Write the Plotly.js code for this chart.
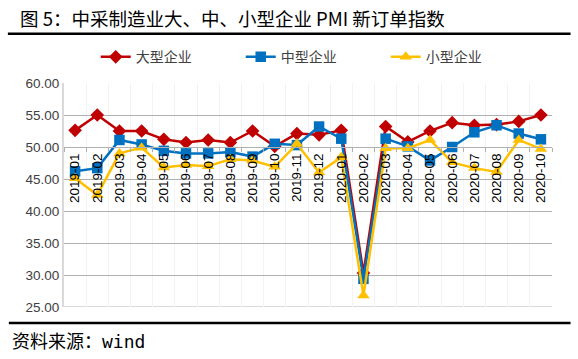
<!DOCTYPE html>
<html>
<head>
<meta charset="utf-8">
<script src="https://cdn.plot.ly/plotly-3.0.1.min.js"></script>
<style>html,body{margin:0;padding:0;background:#fff;}#chart{width:578px;height:359px;}</style>
</head>
<body>
<div id="chart"></div>
<script>
const months = ["2019-01","2019-02","2019-03","2019-04","2019-05","2019-06","2019-07","2019-08","2019-09","2019-10","2019-11","2019-12","2020-01","2020-02","2020-03","2020-04","2020-05","2020-06","2020-07","2020-08","2020-09","2020-10"];
const largeEnt = [52.6,55.0,52.5,52.5,51.2,50.7,51.1,50.7,52.5,50.1,52.1,51.9,52.6,30.3,53.2,50.8,52.5,53.8,53.4,53.5,54.0,55.0];
const mediumEnt = [46.2,46.7,51.1,50.4,49.4,49.0,49.0,49.2,48.5,50.5,50.3,53.2,51.3,29.4,51.3,50.1,47.9,50.0,52.3,53.4,52.1,51.2];
const smallEnt = [45.1,42.5,49.0,49.9,46.8,47.2,47.0,48.1,47.9,46.9,50.5,46.0,48.4,26.8,49.8,49.8,51.1,47.6,46.7,46.1,51.1,49.7];
const seriesNames = ["大型企业","中型企业","小型企业"];
const yTicks = [25,30,35,40,45,50,55,60];

const font = "'Liberation Sans', Arial, 'Noto Sans CJK SC', sans-serif";
const cjk = "'Noto Sans CJK SC', 'Liberation Sans', sans-serif";

const traces = [
  {x: months, y: largeEnt, name: seriesNames[0], type: 'scatter', mode: 'lines+markers',
   line: {color: '#C00000', width: 2.5}, marker: {symbol: 'diamond', size: 10.5, color: '#C00000'}},
  {x: months, y: mediumEnt, name: seriesNames[1], type: 'scatter', mode: 'lines+markers',
   line: {color: '#0070C0', width: 2.5}, marker: {symbol: 'square', size: 10.5, color: '#0070C0'}},
  {x: months, y: smallEnt, name: seriesNames[2], type: 'scatter', mode: 'lines+markers',
   line: {color: '#FFC000', width: 2.5}, marker: {symbol: 'triangle-up', size: 11, color: '#FFC000'}}
];

const layout = {
  width: 578, height: 359,
  margin: {l: 64, r: 26, t: 83, b: 52},
  paper_bgcolor: '#fff', plot_bgcolor: '#fff',
  showlegend: true,
  legend: {orientation: 'h', x: 0.065, xanchor: 'left', y: 1.115, yanchor: 'middle',
           font: {family: cjk, size: 14, color: '#404040'},
           entrywidth: 100, entrywidthmode: 'pixels', bgcolor: 'rgba(0,0,0,0)'},
  xaxis: {type: 'category', anchor: 'free', position: (50 - 25) / 35,
          tickangle: -90, tickfont: {family: font, size: 13.5, color: '#000'},
          showline: true, linecolor: '#b0b0b0', linewidth: 1,
          ticks: 'outside', ticklen: 4, tickcolor: '#b0b0b0', tickson: 'boundaries',
          showgrid: true, gridcolor: '#f3f3f3', gridwidth: 1,
          range: [-0.5, months.length - 0.5], fixedrange: true},
  yaxis: {range: [25, 60], tickvals: yTicks, ticktext: yTicks.map(v => v.toFixed(2)),
          tickfont: {family: font, size: 13.5, color: '#404040'},
          showgrid: true, gridcolor: '#b0b0b0', gridwidth: 1,
          showline: true, linecolor: '#d9d9d9', linewidth: 2,
          zeroline: false, ticks: '', fixedrange: true},
  shapes: [
    {type: 'line', xref: 'paper', yref: 'y', x0: 0, x1: 1, y0: 25, y1: 25, line: {color: '#d9d9d9', width: 2}, layer: 'below'},
    {type: 'line', xref: 'paper', yref: 'paper', x0: -0.115, x1: 1.038, y0: 1.22, y1: 1.22, line: {color: '#000', width: 2.5}},
    {type: 'line', xref: 'paper', yref: 'paper', x0: -0.113, x1: 1.038, y0: -0.071, y1: -0.071, line: {color: '#000', width: 2.5}}
  ],
  annotations: [
    {text: '图 5：中采制造业大、中、小型企业 PMI 新订单指数', xref: 'paper', yref: 'paper',
     x: -0.094, y: 1.29, xanchor: 'left', yanchor: 'middle', showarrow: false,
     font: {family: cjk, size: 18.5, color: '#000'}},
    {text: '资料来源：<span style="font-family:\'DejaVu Sans Mono\', monospace">wind</span>', xref: 'paper', yref: 'paper',
     x: -0.11, y: -0.148, xanchor: 'left', yanchor: 'middle', showarrow: false,
     font: {family: cjk, size: 18, color: '#000'}}
  ]
};

Plotly.newPlot('chart', traces, layout, {displayModeBar: false, staticPlot: true});
</script>
</body>
</html>
